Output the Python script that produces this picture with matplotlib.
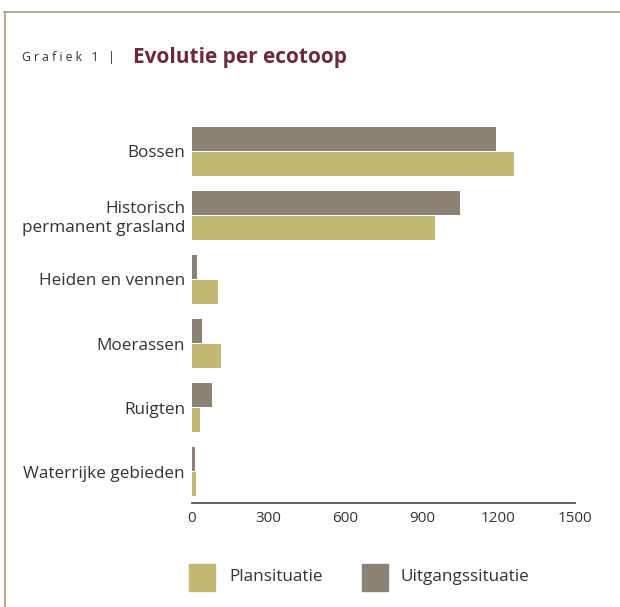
import numpy as np
import matplotlib.pyplot as plt
from matplotlib.patches import Rectangle

# Data
categories = ['Bossen', 'Historisch\npermanent grasland', 'Heiden en vennen',
              'Moerassen', 'Ruigten', 'Waterrijke gebieden']
uitgang = [1190, 1050, 20, 40, 80, 12]
plan = [1260, 950, 100, 115, 30, 16]
xticks = [0, 300, 600, 900, 1200, 1500]

kleur_plan = '#c5b873'
kleur_uitgang = '#8b8275'
tekst = '#333333'

plt.rcParams['font.family'] = ['Open Sans', 'DejaVu Sans']

fig = plt.figure(figsize=(6.2, 6.07), dpi=100)
ax = fig.add_axes([192 / 620, 104 / 607, 383 / 620, 383 / 607])

y = np.arange(len(categories))
h = 24 / 64
off = h / 2 + 0.5 / 64
ax.barh(y - off, uitgang, height=h, color=kleur_uitgang, label='Uitgangssituatie')
ax.barh(y + off, plan, height=h, color=kleur_plan, label='Plansituatie')

ax.set_xlim(0, 1500)
ax.set_ylim(5.492, -0.492)
ax.set_yticks(y)
ax.set_yticklabels(categories, fontsize=12.3, color=tekst, linespacing=1.25)
ax.set_xticks(xticks)
ax.set_xticklabels([str(t) for t in xticks], fontsize=11, color=tekst)
ax.tick_params(axis='y', length=0, pad=5)
ax.tick_params(axis='x', length=0, pad=6)
for s in ['top', 'right', 'left']:
    ax.spines[s].set_visible(False)
ax.spines['bottom'].set_color('#555555')
ax.spines['bottom'].set_linewidth(1.3)

# kader
fig.add_artist(plt.Line2D([4 / 620, 1], [1 - 11.5 / 607] * 2, color='#a89b80', lw=1.2))
fig.add_artist(plt.Line2D([4.5 / 620] * 2, [0, 1 - 11.5 / 607], color='#a89b80', lw=1.2))

# titel
fig.text(22 / 620, 1 - 58 / 607, 'G r a f i e k   1   |', fontsize=8.8, color=tekst, va='center')
fig.text(133 / 620, 1 - 57 / 607, 'Evolutie per ecotoop', fontsize=15, fontweight='bold',
         color='#6b2a3f', va='center')

# legende
fig.add_artist(Rectangle((189 / 620, 1 - 591 / 607), 26 / 620, 27 / 607,
                         color=kleur_plan, transform=fig.transFigure))
fig.text(229 / 620, 1 - 577 / 607, 'Plansituatie', fontsize=12.3, color=tekst, va='center')
fig.add_artist(Rectangle((362 / 620, 1 - 591 / 607), 26 / 620, 27 / 607,
                         color=kleur_uitgang, transform=fig.transFigure))
fig.text(401 / 620, 1 - 577 / 607, 'Uitgangssituatie', fontsize=12.3, color=tekst, va='center')

fig.savefig('out.png', dpi=100)
